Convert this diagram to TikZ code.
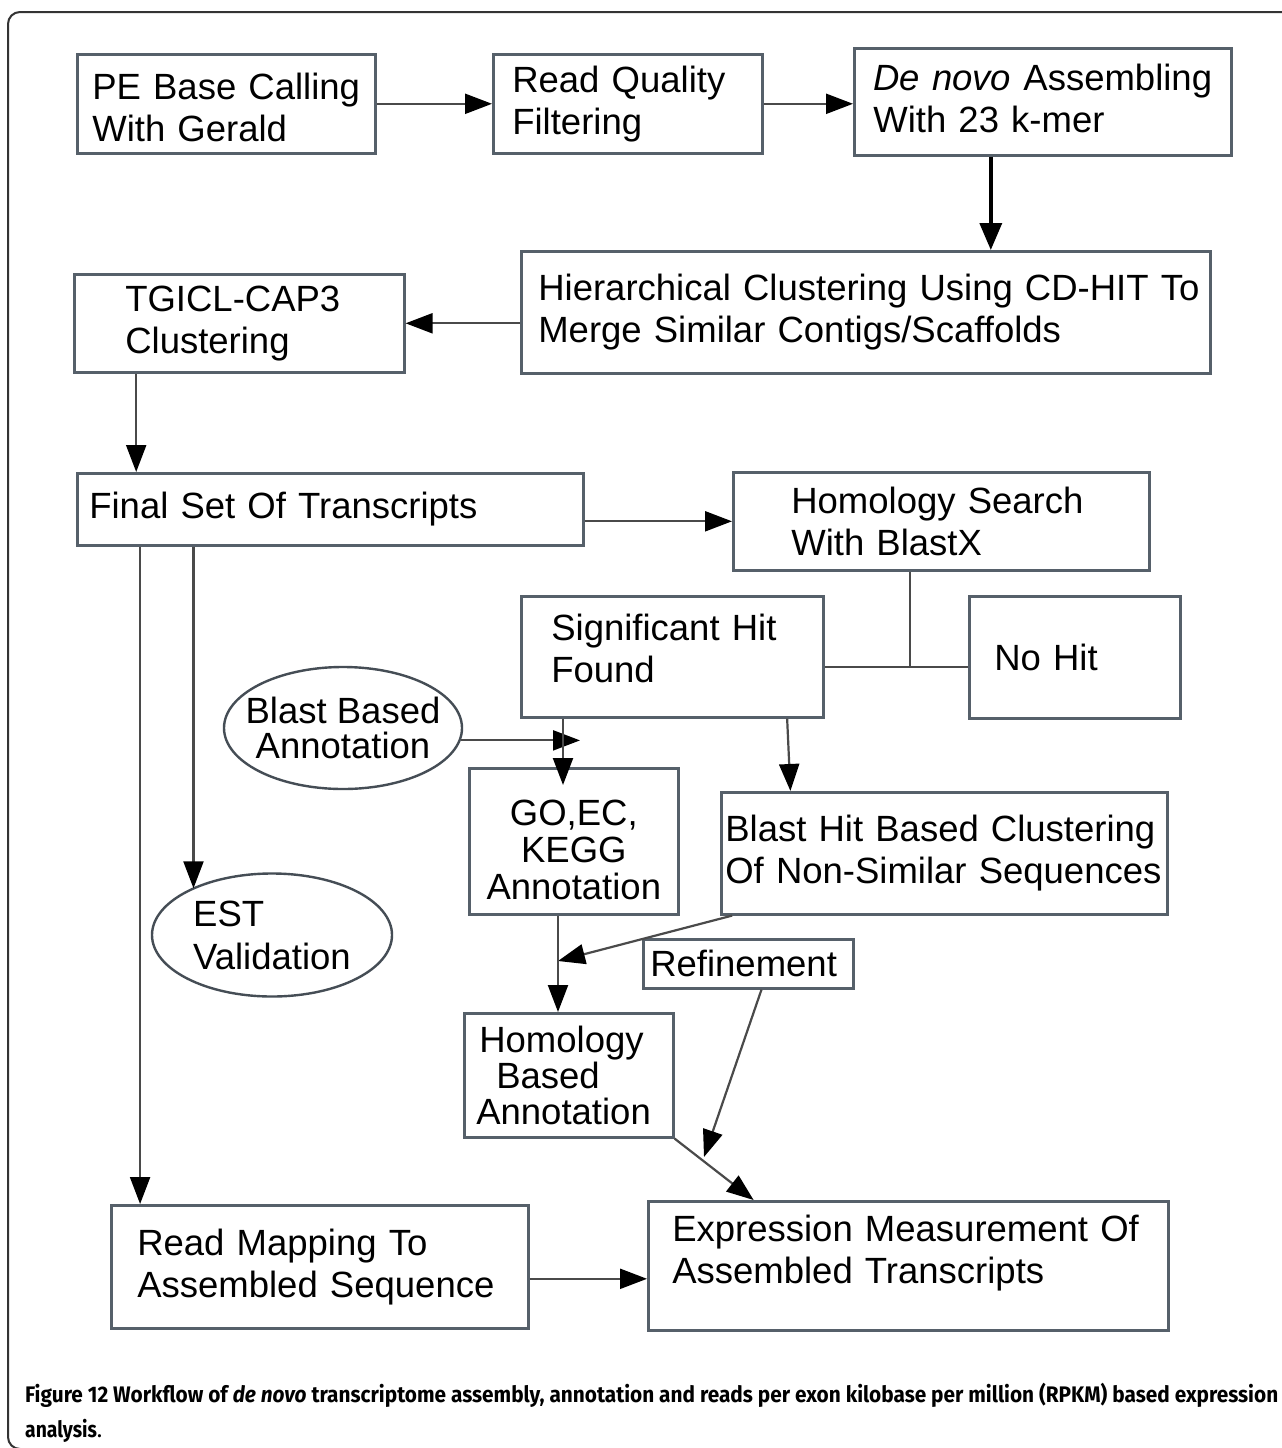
\documentclass[tikz,border=0pt]{standalone}
\usepackage{fontspec}
\setmainfont{Liberation Sans}
\newfontfamily\capfont{Fira Sans}
\usepackage{graphicx}
\usetikzlibrary{arrows.meta,calc,shapes.geometric}
\definecolor{boxc}{HTML}{56606A}
\definecolor{linec}{HTML}{4A4A4A}
\newcommand\dfont{\fontsize{36.5}{42}\selectfont}
\begin{document}
\begin{tikzpicture}[x=1pt,y=-1pt,
  box/.style={draw=boxc, line width=2.6pt, rectangle, anchor=north west, inner ysep=0pt, align=left, font=\dfont},
  oval/.style={draw=boxc!80!black, line width=2.4pt, ellipse, inner sep=0pt},
  arr/.style={draw=linec, line width=2.2pt, -{Triangle[length=27pt,width=20pt,color=black]}},
  thickarr/.style={draw=black, line width=3.6pt, -{Triangle[length=27pt,width=22pt,color=black]}},
  ln/.style={draw=linec, line width=2.2pt}]
\useasboundingbox (0,0) rectangle (1282,1448);
\fill[white] (0,0) rectangle (1282,1448);
\begin{scope}
\clip (0,0) rectangle (1282,1448);
\draw[line width=2pt, black!80, rounded corners=12pt] (8,12) rectangle (1320,1449);
\end{scope}

% boxes
\node[box, minimum width=298pt, minimum height=99pt, inner xsep=15pt, text width=268pt] (pe) at (76,53) {\mbox{}\\[-7.4pt]PE Base Calling\\With Gerald};
\node[box, minimum width=269pt, minimum height=99pt, inner xsep=19pt, text width=231pt] (rq) at (492,53) {Read Quality\\Filtering};
\node[box, minimum width=377pt, minimum height=107pt, inner xsep=19pt, text width=339pt] (dn) at (853,47) {\textit{De novo} Assembling\\With 23 k-mer\\[-34pt]\mbox{}};
\node[box, minimum width=689pt, minimum height=122pt, inner xsep=5pt, text width=679pt] (hc) at (520,250) {\hspace*{12pt}Hierarchical Clustering Using CD-HIT To\\\hspace*{12pt}Merge Similar Contigs/Scaffolds};
\node[box, minimum width=330pt, minimum height=98pt, inner xsep=51pt, text width=228pt] (tg) at (73,273) {TGICL-CAP3\\Clustering};
\node[box, minimum width=506pt, minimum height=72pt, inner xsep=12pt, text width=482pt] (fs) at (76,472) {Final Set Of Transcripts};
\node[box, minimum width=416pt, minimum height=98pt, inner xsep=58pt, text width=300pt] (hs) at (732,471) {Homology Search\\With BlastX};
\node[box, minimum width=302pt, minimum height=121pt, inner xsep=30pt, text width=242pt] (sh) at (520,595) {Significant Hit\\Found\\[-24pt]\mbox{}};
\node[box, minimum width=211pt, minimum height=122pt, inner xsep=25pt, text width=161pt] (nh) at (968,595) {No Hit};
\node[box, minimum width=209pt, minimum height=146pt, inner xsep=4pt, text width=201pt, align=center, font=\fontsize{36.5}{37}\selectfont] (go) at (468,767) {\mbox{}\\[5.6pt]GO,EC,\\KEGG\\Annotation};
\node[box, minimum width=446pt, minimum height=122pt, inner xsep=4pt, text width=438pt] (bh) at (720,791) {Blast Hit Based Clustering\\Of Non-Similar Sequences};
\node[box, minimum width=210pt, minimum height=49pt, inner xsep=7pt, text width=196pt] (rf) at (642,938) {Refinement};
\node[box, minimum width=209pt, minimum height=124pt, inner xsep=12pt, text width=185pt, font=\fontsize{36.5}{36}\selectfont] (hb) at (463,1012) {\hspace*{3pt}Homology\\\hspace*{20pt}Based\\Annotation};
\node[box, minimum width=417pt, minimum height=123pt, inner xsep=26pt, text width=365pt] (rm) at (110,1204) {Read Mapping To\\Assembled Sequence};
\node[box, minimum width=520pt, minimum height=129pt, inner xsep=24pt, text width=472pt] (ex) at (647,1200) {Expression Measurement Of\\Assembled Transcripts\\[-8pt]\mbox{}};

% ellipses
\node[oval, inner xsep=-24pt, minimum width=238pt, minimum height=122pt, align=center, font=\fontsize{36.5}{35}\selectfont] (bb) at (343,728) {Blast Based\\Annotation};
\node[oval, minimum width=240pt, minimum height=123pt, align=left, font=\fontsize{36.5}{43}\selectfont] (est) at (272,935) {EST\\Validation};

% helper coordinates
\coordinate (dnout) at ($(dn.south west)!0.363!(dn.south east)$);
\coordinate (tgout) at ($(tg.south west)!0.19!(tg.south east)$);
\coordinate (jn) at (910,667);
\coordinate (fso1) at ($(fs.south west)!0.231!(fs.south east)$);
\coordinate (fso2) at ($(fs.south west)!0.126!(fs.south east)$);
\coordinate (bbend) at (580,741);
\coordinate (gotip) at (563,785);
\coordinate (shout) at ($(sh.south west)!0.877!(sh.south east)$);
\coordinate (bhin) at ($(bh.north west)!0.157!(bh.north east)$);
\coordinate (bhout) at ($(bh.south west)!0.027!(bh.south east)$);
\coordinate (mg) at (558,961);
\coordinate (rfout) at ($(rf.south west)!0.562!(rf.south east)$);
\coordinate (rftip) at (704,1157);
\coordinate (exin) at ($(ex.north west)!0.204!(ex.north east)$);
\coordinate (rmout) at ($(rm.east)+(0,12)$);

% connectors
\draw[arr] (pe) -- (rq);
\draw[arr] (rq.east) -- (rq.east -| dn.west);
\draw[thickarr] (dnout) -- (dnout |- hc.north);
\draw[arr] (hc.west |- tg.east) -- (tg.east);
\draw[arr] (tgout) -- (tgout |- fs.north);
\draw[arr] (fs.east |- hs.west) -- (hs.west);
\draw[ln] (hs.south -| jn) -- (jn);
\draw[ln] (jn -| sh.east) -- (jn -| nh.west);
\draw[arr] (fso1) -- (fso1 |- est.150);
\draw[arr] (fso2) -- (fso2 |- rm.north);
\draw[arr] (bb.-6) -- (bb.-6 -| bbend);
\draw[arr] (sh.south -| gotip) -- (gotip);
\draw[arr] (shout) -- (bhin);
\draw[arr] (bhout) -- (mg);
\draw[arr] (go.south -| mg) -- (mg |- hb.north);
\draw[arr] (rfout) -- (rftip);
\draw[arr] (hb.south east) -- (exin);
\draw[arr] (rmout) -- (rmout -| ex.west);

% caption
\node[anchor=base west, inner sep=0pt, font=\capfont\bfseries\fontsize{22.5}{26}\selectfont] (cap1) at (25,1402) {\resizebox{1253pt}{\height}{Figure 12 Workflow of \textit{de novo} transcriptome assembly, annotation and reads per exon kilobase per million (RPKM) based expression}};
\node[anchor=base west, inner sep=0pt, font=\capfont\fontsize{22.5}{26}\selectfont] (cap2) at (25,1437) {\resizebox{!}{\height}{\scalebox{0.86}[1]{\bfseries analysis}.}};
\end{tikzpicture}
\end{document}
